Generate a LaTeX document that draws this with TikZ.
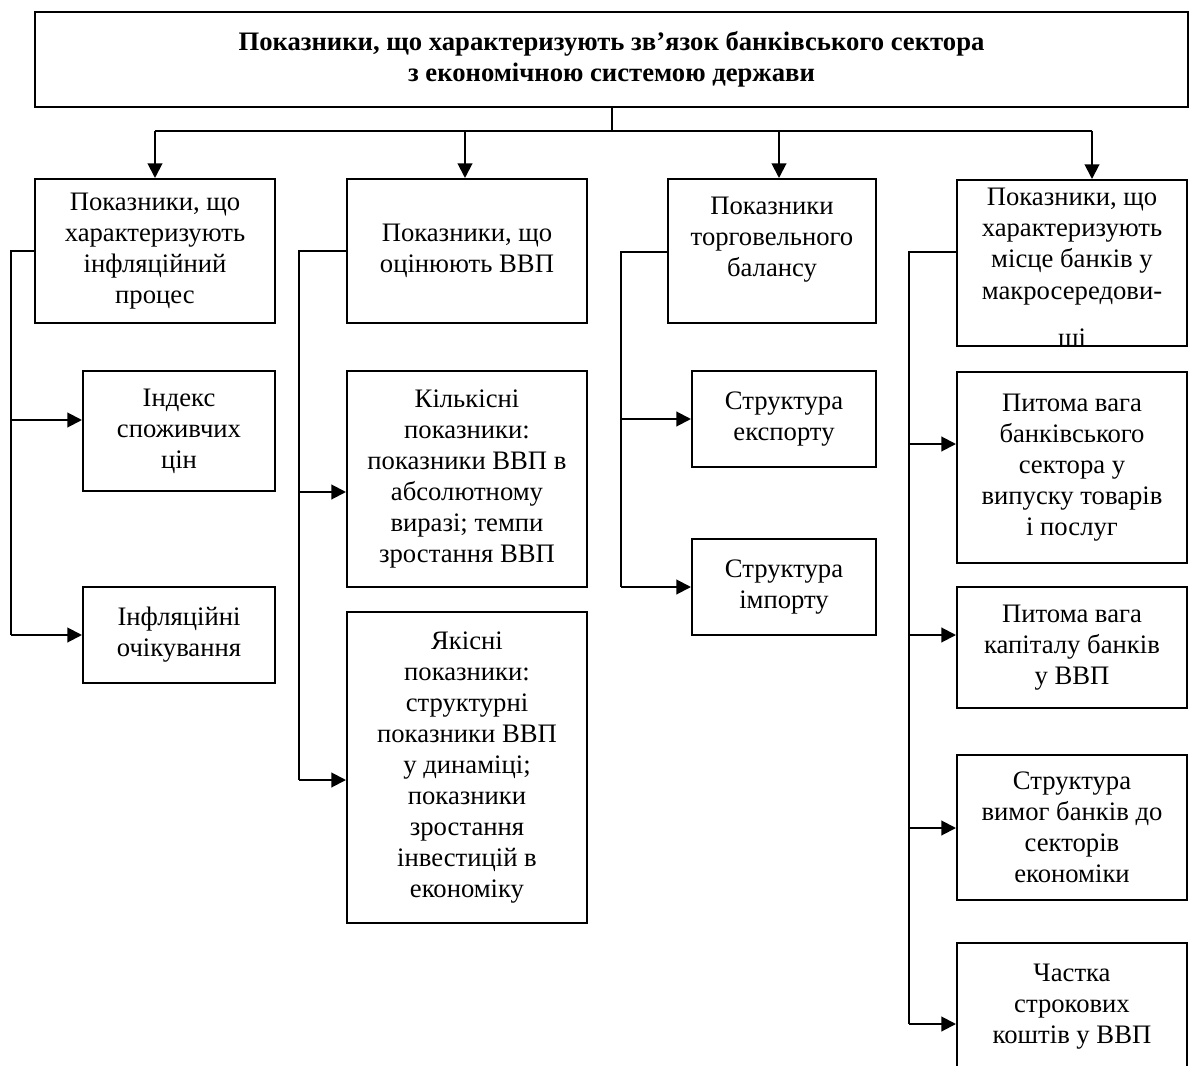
\documentclass[tikz,border=0pt]{standalone}
\usepackage{fontspec}
\setmainfont{Liberation Serif}
\usetikzlibrary{arrows.meta}
\begin{document}
\begin{tikzpicture}[x=0.75pt,y=-0.75pt,line width=1.5pt,
  box/.style={draw,line width=1.5pt,inner sep=0pt,align=center,
    font=\fontsize{20}{23.3}\selectfont},
  sz/.style n args={2}{minimum width=#1*0.75pt,minimum height=#2*0.75pt},
  txt/.style={inner sep=0pt,align=center,font=\fontsize{20}{23.3}\selectfont},
  headbox/.style={box,font=\bfseries\fontsize{20}{23.3}\selectfont},
  arr/.style={-{Triangle[length=11pt,width=11pt]}}]
\clip (0,0) rectangle (1189,1066);

% heading
\node[headbox,sz={1153}{95}] (top) at (611.5,59.5)
  {Показники, що характеризують зв’язок банківського сектора\\
   з економічною системою держави};

% first level
\node[box,sz={240}{144}] (b1) at (155,251)
  {Показники, що\\характеризують\\інфляційний\\процес};
\node[box,sz={240}{144}] (b2) at (467,251) {Показники, що\\оцінюють ВВП};
\node[box,sz={208}{144}] (b3) at (772,251) {};
\node[txt] (b3t) at (772,240) {Показники\\торговельного\\балансу};
\node[box,sz={230}{166}] (b4) at (1072,263) {};
\begin{scope}
  % the last syllable runs past the frame and is cut off by it
  \clip (957,180) rectangle (1187,346);
  \node[txt] (b4t) at (1072,270)
    {Показники, що\\характеризують\\місце банків у\\макросередови-\\[12pt]щі};
\end{scope}
\draw (957,180) rectangle (1187,346);

% second level
\node[box,sz={192}{120}] (c11) at (179,431) {Індекс\\споживчих\\цін};
\node[box,sz={192}{96}] (c12) at (179,635) {Інфляційні\\очікування};
\node[box,sz={240}{216}] (c21) at (467,479)
  {Кількісні\\показники:\\показники ВВП в\\абсолютному\\виразі; темпи\\зростання ВВП};
\node[box,sz={240}{311}] (c22) at (467,767.5)
  {Якісні\\показники:\\структурні\\показники ВВП\\у динаміці;\\показники\\зростання\\інвестицій в\\економіку};
\node[box,sz={184}{96}] (c31) at (784,419) {Структура\\експорту};
\node[box,sz={184}{96}] (c32) at (784,587) {Структура\\імпорту};
\node[box,sz={230}{191}] (c41) at (1072,467.5)
  {Питома вага\\банківського\\сектора у\\випуску товарів\\і послуг};
\node[box,sz={230}{121}] (c42) at (1072,647.5) {Питома вага\\капіталу банків\\у ВВП};
\node[box,sz={230}{145}] (c43) at (1072,827.5)
  {Структура\\вимог банків до\\секторів\\економіки};
\node[box,sz={230}{157}] (c44) at (1072,1021.5) {};
\node[txt] (c44t) at (1072,1007) {Частка\\строкових\\коштів у ВВП};

% distribution bus under the heading
\coordinate (d1) at (155,131);
\coordinate (d2) at (465,131);
\coordinate (d3) at (779,131);
\coordinate (d4) at (1092,131);
\draw (top.south) -- (top.south |- d1);
\draw (d1) -- (d4);
\draw[arr] (d1) -- (d1 |- b1.north);
\draw[arr] (d2) -- (d2 |- b2.north);
\draw[arr] (d3) -- (d3 |- b3.north);
\draw[arr] (d4) -- (d4 |- b4.north);

% side trunks
\coordinate (t1) at (11,251);
\coordinate (t2) at (299,251);
\coordinate (t3) at (621,252);
\coordinate (t4) at (909,252);
\draw (b1.west |- t1) -- (t1) -- (t1 |- 0,635);
\draw[arr] (t1 |- 0,420) -- (c11.west |- 0,420);
\draw[arr] (t1 |- 0,635) -- (c12.west |- 0,635);

\draw (b2.west |- t2) -- (t2) -- (t2 |- 0,780);
\draw[arr] (t2 |- 0,492) -- (c21.west |- 0,492);
\draw[arr] (t2 |- 0,780) -- (c22.west |- 0,780);

\draw (b3.west |- t3) -- (t3) -- (t3 |- 0,587);
\draw[arr] (t3 |- 0,419) -- (c31.west |- 0,419);
\draw[arr] (t3 |- 0,587) -- (c32.west |- 0,587);

\draw (b4.west |- t4) -- (t4) -- (t4 |- 0,1024);
\draw[arr] (t4 |- 0,444) -- (c41.west |- 0,444);
\draw[arr] (t4 |- 0,635) -- (c42.west |- 0,635);
\draw[arr] (t4 |- 0,828) -- (c43.west |- 0,828);
\draw[arr] (t4 |- 0,1024) -- (c44.west |- 0,1024);
\end{tikzpicture}
\end{document}
